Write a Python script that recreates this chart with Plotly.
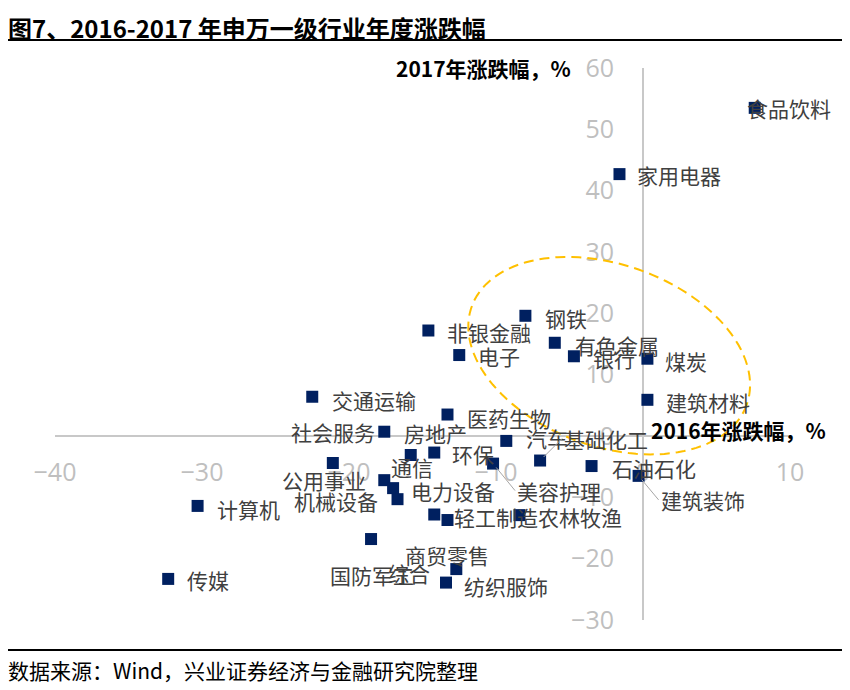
import numpy as np
import plotly.graph_objects as go

# 申万一级行业 2016 / 2017 年度涨跌幅（%）
industries = ["食品饮料", "家用电器", "钢铁", "非银金融", "有色金属", "电子", "银行", "煤炭",
              "建筑材料", "交通运输", "医药生物", "社会服务", "汽车", "房地产", "环保", "公用事业",
              "美容护理", "基础化工", "石油石化", "通信", "电力设备", "机械设备", "建筑装饰", "计算机",
              "轻工制造", "综合", "农林牧渔", "国防军工", "商贸零售", "纺织服饰", "传媒"]
chg_2016 = [7.6, -1.6, -8.0, -14.6, -6.0, -12.5, -4.7, 0.3,
            0.3, -22.5, -13.3, -17.6, -9.3, -15.8, -14.2, -21.1,
            -10.2, -7.0, -3.5, -17.6, -17.0, -16.7, -0.3, -30.3,
            -14.2, -13.3, -8.4, -18.5, -12.7, -13.4, -32.3]
chg_2017 = [53.5, 42.7, 19.6, 17.2, 15.2, 13.2, 13.0, 12.6,
            5.9, 6.4, 3.5, 0.7, -0.8, -3.1, -2.7, -4.4,
            -4.5, -4.0, -4.9, -7.2, -8.5, -10.3, -6.5, -11.4,
            -12.8, -13.7, -12.9, -16.8, -21.7, -23.9, -23.3]
x_ticks = [-40, -30, -20, -10, 0, 10]
y_ticks = [-30, -20, -10, 0, 10, 20, 30, 40, 50, 60]

# 标签摆放：(方式, dx, dy) 像素，r=右侧 l=左侧 a=引导线
label_pos = {
    "食品饮料": ("r", -7, 0), "家用电器": ("r", 19, 1), "钢铁": ("r", 21, 2),
    "非银金融": ("r", 20, 1), "有色金属": ("r", 21, 2), "电子": ("r", 20, 1),
    "银行": ("r", 20, 2), "煤炭": ("r", 19, 2), "建筑材料": ("r", 20, 2),
    "交通运输": ("r", 21, 3), "医药生物": ("r", 21, 3), "社会服务": ("l", -10, 0),
    "汽车": ("r", 21, -3), "房地产": ("r", -6, -22), "环保": ("r", 19, 1),
    "公用事业": ("r", -50, 17), "美容护理": ("a", 24, 27), "基础化工": ("a", 24, -22),
    "石油石化": ("r", 21, 2), "通信": ("r", 8, -13), "电力设备": ("r", 19, 3),
    "机械设备": ("l", -21, 2), "建筑装饰": ("a", 22, 24), "计算机": ("r", 20, 3),
    "轻工制造": ("r", 21, 2), "综合": ("r", -58, 53), "农林牧渔": ("r", 19, 2),
    "国防军工": ("r", -40, 36), "商贸零售": ("r", -50, -14), "纺织服饰": ("r", 19, 3),
    "传媒": ("r", 20, 1),
}

# 页面有 8px 的 body 边距，画布整体按此偏移
OFF = 8
W, H = 850 - OFF, 690 - OFF
L, R, T, B = 55 - OFF, 60, 68 - OFF, 70
PX_X = (W - L - R) / (x_ticks[-1] - x_ticks[0])
PX_Y = (H - T - B) / (y_ticks[-1] - y_ticks[0])


def paper_x(px):
    return (px - OFF - L) / (W - L - R)


def paper_y(py):
    return (H - B - (py - OFF)) / (H - T - B)


CJK = "Noto Sans CJK SC"
LABEL_FONT = dict(family=CJK, size=21, color="#404040")

fig = go.Figure()
fig.add_trace(go.Scatter(
    x=chg_2016, y=chg_2017, mode="markers", text=industries,
    marker=dict(symbol="square", size=12, color="#002060"),
    hoverinfo="text+x+y", showlegend=False))

annotations = []
for name, x, y in zip(industries, chg_2016, chg_2017):
    mode, dx, dy = label_pos[name]
    if mode == "a":
        annotations.append(dict(
            x=x, y=y, xref="x", yref="y", text=name, font=LABEL_FONT,
            showarrow=True, arrowhead=0, arrowwidth=1, arrowcolor="#a6a6a6",
            ax=dx - 2, ay=dy, xanchor="left", yanchor="middle", standoff=5))
    else:
        annotations.append(dict(
            x=x, y=y, xref="x", yref="y", text=name, font=LABEL_FONT, showarrow=False,
            xanchor="left" if mode == "r" else "right", yanchor="middle",
            xshift=dx - 3 if mode == "r" else dx + 3, yshift=-dy))

# 坐标轴标题
annotations.append(dict(x=-5, y=60, xref="x", yref="y", text="<b>2017年涨跌幅，%</b>",
                        font=dict(family=CJK, size=21, color="#000000"), showarrow=False,
                        xanchor="right", yanchor="middle", xshift=3))
annotations.append(dict(x=0, y=0, xref="x", yref="y", text="<b>2016年涨跌幅，%</b>",
                        font=dict(family=CJK, size=21, color="#000000"), showarrow=False,
                        xanchor="left", yanchor="middle", xshift=6, yshift=6))
# 标题与来源
annotations.append(dict(x=paper_x(OFF - 2), y=paper_y(OFF), xref="paper", yref="paper",
                        text="<b>图7、2016-2017 年申万一级行业年度涨跌幅</b>",
                        font=dict(family=CJK, size=24, color="#000000"), showarrow=False,
                        xanchor="left", yanchor="top"))
annotations.append(dict(x=paper_x(OFF - 2), y=paper_y(670), xref="paper", yref="paper",
                        text="数据来源：Wind，兴业证券经济与金融研究院整理",
                        font=dict(family=CJK, size=21, color="#000000"), showarrow=False,
                        xanchor="left", yanchor="middle"))

shapes = [
    dict(type="line", xref="paper", yref="paper", x0=paper_x(OFF), x1=paper_x(850),
         y0=paper_y(40), y1=paper_y(40), line=dict(color="#000000", width=2)),
    dict(type="line", xref="paper", yref="paper", x0=paper_x(OFF), x1=paper_x(850),
         y0=paper_y(650), y1=paper_y(650), line=dict(color="#000000", width=2)),
]

# 黄色虚线椭圆（像素尺度下的倾斜椭圆）
ec_x, ec_y = -2.3, 13.1
ea, eb, etheta = 146, 91, np.radians(19.6)
t = np.linspace(0, 2 * np.pi, 120)
ox = ea * np.cos(t) * np.cos(etheta) - eb * np.sin(t) * np.sin(etheta)
oy = ea * np.cos(t) * np.sin(etheta) + eb * np.sin(t) * np.cos(etheta)
ex = ec_x + ox / PX_X
ey = ec_y - oy / PX_Y
path = "M " + " L ".join(f"{a:.3f},{b:.3f}" for a, b in zip(ex, ey)) + " Z"
shapes.append(dict(type="path", xref="x", yref="y", path=path,
                   line=dict(color="#FFC000", width=2, dash="10px,6px")))

tick_font = dict(family="Open Sans", size=25, color="#bfbfbf")
fig.update_layout(
    width=W, height=H, margin=dict(l=L, r=R, t=T, b=B),
    plot_bgcolor="white", paper_bgcolor="white",
    annotations=annotations, shapes=shapes,
    xaxis=dict(range=[x_ticks[0], x_ticks[-1]], tickvals=x_ticks, anchor="free",
               position=(0 - y_ticks[0]) / (y_ticks[-1] - y_ticks[0]),
               showline=True, linecolor="#c8c8c8", linewidth=2, showgrid=False,
               zeroline=False, ticks="", tickfont=tick_font, ticklabelstandoff=14,
               layer="below traces"),
    yaxis=dict(range=[y_ticks[0], y_ticks[-1]], tickvals=y_ticks, anchor="free",
               position=(0 - x_ticks[0]) / (x_ticks[-1] - x_ticks[0]),
               showline=True, linecolor="#c8c8c8", linewidth=2, showgrid=False,
               zeroline=False, ticks="", tickfont=tick_font, ticklabelstandoff=23,
               layer="below traces"),
)

fig.write_html("out.html")
